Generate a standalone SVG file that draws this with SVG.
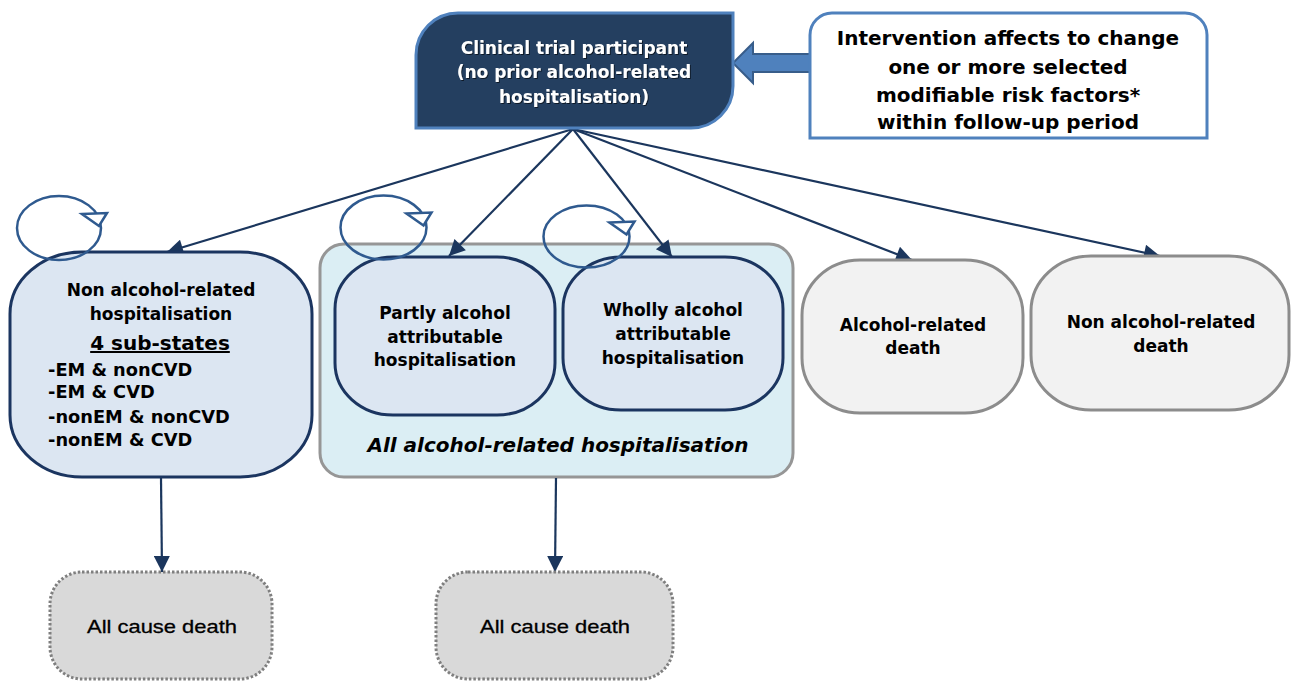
<svg xmlns="http://www.w3.org/2000/svg" width="1292" height="681" viewBox="0 0 1292 681">
<defs>
<marker id="ah" viewBox="0 0 10 10" refX="10" refY="5" markerWidth="18" markerHeight="16" markerUnits="userSpaceOnUse" orient="auto">
<path d="M0,0 L10,5 L0,10 Z" fill="#1B365D"/>
</marker>
<filter id="sh" x="-5%" y="-5%" width="110%" height="120%">
<feDropShadow dx="1" dy="1" stdDeviation="0.6" flood-color="#000" flood-opacity="0.6"/>
</filter>
</defs>
<style>
text{font-family:"DejaVu Sans","Liberation Sans",sans-serif;font-weight:bold;font-size:17px;fill:#000;}
.c{text-anchor:middle;}
.st{fill:#DCE6F2;stroke:#1B3560;stroke-width:3;}
.dead{fill:#F2F2F2;stroke:#8C8C8C;stroke-width:3;}
.acd{fill:#D9D9D9;stroke:#7F7F7F;stroke-width:3;stroke-dasharray:2.5 2;}
.edge{stroke:#1B365D;stroke-width:2.2;fill:none;marker-end:url(#ah);}
.loop{fill:none;stroke:#2F5A8F;stroke-width:2.5;}
.loophead{fill:#fff;stroke:#2F5A8F;stroke-width:2.5;stroke-linejoin:miter;}
.acdt{font-family:"Liberation Sans",Arial,sans-serif;font-weight:normal;font-size:19px;stroke:#000;stroke-width:0.3;}
</style>

<g id="group-alcohol">
<rect x="320" y="244" width="473" height="233" rx="24" fill="#DBEEF4" stroke="#969696" stroke-width="3"/>
<text class="c" x="558" y="452" style="font-size:20px;font-style:italic;">All alcohol-related hospitalisation</text>
</g>

<g id="connectors">
<line class="edge" x1="573" y1="129" x2="167" y2="252"/>
<line class="edge" x1="573" y1="129" x2="449" y2="256"/>
<line class="edge" x1="573" y1="129" x2="672" y2="257"/>
<line class="edge" x1="573" y1="129" x2="912" y2="260"/>
<line class="edge" x1="573" y1="129" x2="1160" y2="256"/>
<line class="edge" x1="161" y1="478" x2="162" y2="572"/>
<line class="edge" x1="556" y1="478" x2="555" y2="572"/>
<path d="M810,54 L753,54 L753,43 L733,63 L753,83 L753,72 L810,72" fill="#4F81BD" stroke="#385D8A" stroke-width="2"/>
</g>

<g id="participant">
<path d="M416,128 L416,55 A42,42 0 0 1 458,13 L733,13 L733,86 A42,42 0 0 1 691,128 Z" fill="#243F60" stroke="#4F81BD" stroke-width="3"/>
<g filter="url(#sh)">
<text class="c" x="574" y="54" style="fill:#fff;">Clinical trial participant</text>
<text class="c" x="574" y="78" style="fill:#fff;">(no prior alcohol-related</text>
<text class="c" x="574" y="103" style="fill:#fff;">hospitalisation)</text>
</g>
</g>

<g id="intervention">
<path d="M810,138 L810,35 A22,22 0 0 1 832,13 L1185,13 A22,22 0 0 1 1207,35 L1207,138 Z" fill="#fff" stroke="#4F81BD" stroke-width="3"/>
<text class="c" x="1008" y="45" style="font-size:20px;">Intervention affects to change</text>
<text class="c" x="1008" y="74" style="font-size:20px;">one or more selected</text>
<text class="c" x="1008" y="102" style="font-size:20px;">modifiable risk factors*</text>
<text class="c" x="1008" y="129" style="font-size:20px;">within follow-up period</text>
</g>

<g id="non-alcohol-hosp">
<rect class="st" x="10" y="252" width="302" height="225" rx="72" ry="62"/>
<text class="c" x="161" y="296">Non alcohol-related</text>
<text class="c" x="161" y="320">hospitalisation</text>
<text class="c" x="160" y="350" style="font-size:20px;text-decoration:underline;">4 sub-states</text>
<text x="48" y="376" style="font-size:17.8px;">-EM &amp; nonCVD</text>
<text x="48" y="398" style="font-size:17.8px;">-EM &amp; CVD</text>
<text x="48" y="423" style="font-size:17.8px;">-nonEM &amp; nonCVD</text>
<text x="48" y="446" style="font-size:17.8px;">-nonEM &amp; CVD</text>
</g>

<g id="partly">
<rect class="st" x="335" y="257" width="220" height="158" rx="58" ry="52"/>
<text class="c" x="445" y="319">Partly alcohol</text>
<text class="c" x="445" y="343">attributable</text>
<text class="c" x="445" y="366">hospitalisation</text>
</g>

<g id="wholly">
<rect class="st" x="563" y="257" width="220" height="153" rx="58" ry="52"/>
<text class="c" x="673" y="316">Wholly alcohol</text>
<text class="c" x="673" y="340">attributable</text>
<text class="c" x="673" y="364">hospitalisation</text>
</g>

<g id="alcohol-death">
<rect class="dead" x="802" y="260" width="221" height="153" rx="58" ry="55"/>
<text class="c" x="913" y="331">Alcohol-related</text>
<text class="c" x="913" y="354">death</text>
</g>

<g id="non-alcohol-death">
<rect class="dead" x="1031" y="256" width="258" height="154" rx="60" ry="55"/>
<text class="c" x="1161" y="328">Non alcohol-related</text>
<text class="c" x="1161" y="352">death</text>
</g>

<g id="all-cause-death-1">
<rect class="acd" x="50" y="572" width="222" height="107" rx="32"/>
<text class="c acdt" x="162" y="633" textLength="150" lengthAdjust="spacingAndGlyphs">All cause death</text>
</g>

<g id="all-cause-death-2">
<rect class="acd" x="436" y="572" width="237" height="107" rx="32"/>
<text class="c acdt" x="555" y="633" textLength="150" lengthAdjust="spacingAndGlyphs">All cause death</text>
</g>

<g id="loops">
<g transform="translate(59,228)"><ellipse class="loop" rx="42" ry="32"/><polygon class="loophead" points="23,-14 48,-15 40,-2"/></g>
<g transform="translate(383.5,227.5)"><ellipse class="loop" rx="43" ry="32"/><polygon class="loophead" points="23,-14 48,-15 40,-2"/></g>
<g transform="translate(586.5,236.5)"><ellipse class="loop" rx="43" ry="31"/><polygon class="loophead" points="23,-14 48,-15 40,-2"/></g>
</g>
</svg>
